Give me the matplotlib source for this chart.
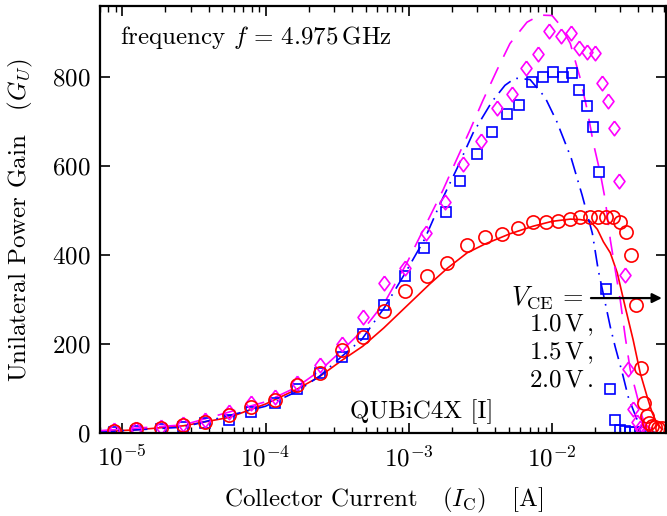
import matplotlib
matplotlib.use("Agg")
import matplotlib.pyplot as plt
import numpy as np

plt.rcParams['font.family'] = 'cmr10'
plt.rcParams['mathtext.fontset'] = 'cm'
plt.rcParams['axes.formatter.use_mathtext'] = True

# measured points (A, gain)
ic_1v0 = [8.8e-6, 1.25e-5, 1.85e-5, 2.67e-5, 3.8e-5, 5.6e-5, 7.98e-5, 1.16e-4, 1.65e-4, 2.39e-4,
          3.4e-4, 4.77e-4, 6.68e-4, 9.37e-4, 1.34e-3, 1.85e-3, 2.55e-3, 3.4e-3, 4.47e-3, 5.78e-3,
          7.36e-3, 9.08e-3, 1.10e-2, 1.34e-2, 1.57e-2, 1.85e-2, 2.10e-2, 2.39e-2, 2.67e-2, 2.99e-2,
          3.29e-2, 3.56e-2, 3.86e-2, 4.19e-2, 4.40e-2, 4.61e-2, 4.76e-2, 5.0e-2, 5.25e-2, 5.51e-2, 5.87e-2]
gu_1v0 = [5, 8, 12, 18, 25, 40, 59, 74, 108, 134,
          186, 216, 274, 319, 354, 382, 422, 440, 447, 460,
          474, 474, 476, 481, 485, 485, 485, 485, 485, 474,
          452, 400, 288, 146, 67, 38, 22, 16, 13, 11, 11]

ic_1v5 = [8.8e-6, 1.25e-5, 1.85e-5, 2.67e-5, 3.8e-5, 5.6e-5, 7.98e-5, 1.16e-4, 1.65e-4, 2.39e-4,
          3.4e-4, 4.77e-4, 6.68e-4, 9.37e-4, 1.28e-3, 1.83e-3, 2.28e-3, 2.99e-3, 3.80e-3, 4.84e-3,
          5.87e-3, 7.24e-3, 8.65e-3, 1.02e-2, 1.19e-2, 1.38e-2, 1.55e-2, 1.76e-2, 1.94e-2, 2.13e-2,
          2.39e-2, 2.55e-2, 2.76e-2, 2.99e-2, 3.24e-2, 3.51e-2, 3.80e-2, 4.12e-2]
gu_1v5 = [3, 5, 8, 13, 22, 29, 46, 67, 99, 134,
          171, 222, 287, 352, 416, 497, 566, 627, 676, 717,
          737, 789, 800, 811, 800, 809, 771, 735, 688, 587,
          324, 99, 29, 7, 4, 3, 3, 3]

ic_2v0 = [8.8e-6, 1.25e-5, 1.85e-5, 2.67e-5, 3.8e-5, 5.6e-5, 7.98e-5, 1.16e-4, 1.65e-4, 2.39e-4,
          3.4e-4, 4.77e-4, 6.68e-4, 9.37e-4, 1.32e-3, 1.79e-3, 2.39e-3, 3.18e-3, 4.12e-3, 5.25e-3,
          6.57e-3, 7.98e-3, 9.53e-3, 1.16e-2, 1.36e-2, 1.55e-2, 1.76e-2, 2.0e-2, 2.24e-2, 2.47e-2,
          2.72e-2, 2.94e-2, 3.24e-2, 3.40e-2, 3.68e-2, 3.93e-2, 4.12e-2, 4.33e-2, 4.54e-2]
gu_2v0 = [6, 9, 13, 20, 28, 46, 67, 81, 112, 153,
          199, 261, 338, 372, 449, 519, 604, 656, 730, 762,
          822, 852, 905, 894, 899, 867, 858, 854, 787, 746,
          685, 566, 355, 144, 54, 25, 11, 2, 1]

# model curves
icm_1v0 = [6.9e-6, 1.25e-5, 2.67e-5, 5.6e-5, 1e-4, 1.65e-4, 2.39e-4, 3.4e-4, 4.77e-4, 6.68e-4,
           1e-3, 1.4e-3, 1.85e-3, 2.55e-3, 3.4e-3, 5.08e-3, 7.36e-3, 1e-2, 1.34e-2, 1.57e-2,
           1.85e-2, 2.07e-2, 2.28e-2, 2.55e-2, 2.85e-2, 3.24e-2, 3.68e-2, 4.12e-2, 4.61e-2, 5.0e-2,
           5.42e-2, 5.87e-2]
gum_1v0 = [3, 7, 16, 35, 65, 98, 127, 163, 195, 236,
           290, 335, 370, 405, 425, 448, 465, 476, 481, 480,
           476, 458, 430, 405, 360, 283, 209, 135, 81, 45,
           20, 8]

icm_1v5 = [6.9e-6, 2.67e-5, 1e-4, 1.65e-4, 2.39e-4, 3.4e-4, 4.69e-4, 6.79e-4, 9.37e-4, 1.29e-3,
           1.65e-3, 2.17e-3, 2.81e-3, 3.80e-3, 4.69e-3, 5.51e-3, 7.02e-3, 8.93e-3, 1.08e-2, 1.36e-2,
           1.62e-2, 1.91e-2, 2.10e-2, 2.35e-2, 2.55e-2, 2.76e-2, 3.09e-2, 3.40e-2, 3.68e-2, 3.93e-2,
           4.47e-2, 5.25e-2]
gum_1v5 = [2, 13, 60, 93, 128, 172, 210, 283, 358, 436,
           515, 595, 675, 745, 782, 798, 795, 755, 700, 618,
           535, 449, 366, 292, 238, 193, 135, 81, 52, 29,
           5, 1]

icm_2v0 = [6.9e-6, 2.67e-5, 1e-4, 1.65e-4, 2.39e-4, 3.4e-4, 4.77e-4, 6.79e-4, 9.68e-4, 1.34e-3,
           1.73e-3, 2.10e-3, 2.67e-3, 3.29e-3, 4.12e-3, 5.08e-3, 6.68e-3, 8.24e-3, 1e-2, 1.14e-2,
           1.34e-2, 1.57e-2, 1.76e-2, 1.94e-2, 2.17e-2, 2.35e-2, 2.55e-2, 2.76e-2, 2.99e-2, 3.24e-2,
           3.51e-2, 3.93e-2, 4.26e-2, 4.47e-2, 5.25e-2]
gum_2v0 = [5, 18, 70, 103, 140, 185, 231, 294, 382, 474,
           546, 607, 681, 748, 816, 876, 924, 940, 939, 917,
           876, 798, 726, 652, 584, 524, 434, 366, 299, 216,
           142, 81, 36, 18, 3]

red, blue, mag = '#ff0000', '#0000ff', '#ff00ff'
diamond = [(0, 1), (0.75, 0), (0, -1), (-0.75, 0), (0, 1)]

fig = plt.figure(figsize=(6.67, 5.16), dpi=100)
ax = fig.add_axes([0.150, 0.161, 0.849, 0.827])

ax.plot(icm_1v0, gum_1v0, '-', color=red, lw=1.2)
ax.plot(icm_1v5, gum_1v5, color=blue, lw=1.2, linestyle=(0, (10, 4, 1, 4)))
ax.plot(icm_2v0, gum_2v0, color=mag, lw=1.2, linestyle=(0, (11, 7)))
ax.plot(ic_1v5, gu_1v5, 's', mfc='none', mec=blue, ms=7, mew=1.2)
ax.plot(ic_2v0, gu_2v0, marker=diamond, ls='none', mfc='none', mec=mag, ms=10.5, mew=1.2)
ax.plot(ic_1v0, gu_1v0, 'o', mfc='none', mec=red, ms=9.5, mew=1.2)

ax.set_xscale('log')
ax.set_xlim(7.0e-6, 6.27e-2)
ax.set_ylim(0, 960)
ax.set_yticks([0, 200, 400, 600, 800])
ax.tick_params(which='both', direction='in', top=True, right=True, labelsize=18)
ax.tick_params(which='major', length=7, width=1.2)
ax.tick_params(which='minor', length=4, width=1.0)
ax.tick_params(axis='x', pad=9)
ax.tick_params(axis='y', pad=7)
for s in ax.spines.values():
    s.set_linewidth(1.6)

ax.set_xlabel(r'Collector Current   $(I_{\rm C})$   [A]', fontsize=18, labelpad=10)
ax.set_ylabel(r'Unilateral Power Gain   $(G_U)$', fontsize=18, labelpad=12)

ax.text(0.035, 0.927, r'frequency $f\,=\,4.975\,$GHz', transform=ax.transAxes,
        fontsize=18, va='center', ha='left')
ax.text(0.442, 0.049, 'QUBiC4X [I]', transform=ax.transAxes, fontsize=18, va='center')
ax.text(0.853, 0.318, r'$V_{\rm CE}\,=$', transform=ax.transAxes, fontsize=19,
        va='center', ha='right')
ax.text(0.758, 0.253, r'1.0$\,$V$\,$,', transform=ax.transAxes, fontsize=18, va='center')
ax.text(0.758, 0.187, r'1.5$\,$V$\,$,', transform=ax.transAxes, fontsize=18, va='center')
ax.text(0.758, 0.124, r'2.0$\,$V$\,$.', transform=ax.transAxes, fontsize=18, va='center')
ax.annotate('', xy=(0.997, 0.316), xytext=(0.862, 0.316), xycoords='axes fraction',
            arrowprops=dict(arrowstyle='-|>', color='black', lw=1.6, mutation_scale=14))

fig.savefig('out.png', dpi=100)
